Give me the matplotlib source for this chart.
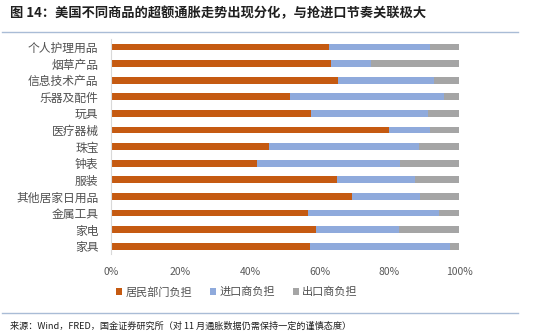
import matplotlib
matplotlib.use("Agg")
import matplotlib.pyplot as plt
from matplotlib.lines import Line2D
from matplotlib.patches import Patch
import numpy as np

plt.rcParams['font.family'] = ['Noto Sans CJK SC', 'DejaVu Sans']

categories = ["个人护理用品", "烟草产品", "信息技术产品", "乐器及配件", "玩具", "医疗器械",
              "珠宝", "钟表", "服装", "其他居家日用品", "金属工具", "家电", "家具"]
household = [62.7, 63.3, 65.2, 51.5, 57.6, 80.0, 45.5, 42.0, 64.8, 69.3, 56.6, 58.9, 57.2]
importer = [28.9, 11.4, 27.6, 44.2, 33.4, 11.7, 42.9, 41.0, 22.7, 19.4, 37.6, 23.9, 40.3]
exporter = [100 - h - i for h, i in zip(household, importer)]
series_names = ["居民部门负担", "进口商负担", "出口商负担"]
colors = ["#C55A11", "#8FAADC", "#A5A5A5"]

W, H = 550, 336
fig = plt.figure(figsize=(W / 100, H / 100), dpi=100)

# plot area in pixel coordinates
x0, x1 = 111, 459
ytop, ybot = 38.7, 254.5
ax = fig.add_axes([x0 / W, 1 - ybot / H, (x1 - x0) / W, (ybot - ytop) / H])

y = np.arange(len(categories))
left = np.zeros(len(categories))
for vals, c, name in zip([household, importer, exporter], colors, series_names):
    ax.barh(y, vals, left=left, height=0.42, color=c, label=name)
    left += np.array(vals)

ax.set_ylim(len(categories) - 0.5, -0.5)
ax.set_xlim(0, 100)
ax.set_yticks(y)
ax.set_yticklabels(categories, fontsize=8.5, color="#505050")
ax.set_xticks(np.arange(0, 101, 20))
ax.set_xticklabels([f"{v}%" for v in range(0, 101, 20)], fontsize=7.5, color="#595959")
ax.tick_params(axis="y", length=0, pad=9)
ax.tick_params(axis="x", length=0, pad=9)
for s in ["top", "right", "bottom"]:
    ax.spines[s].set_visible(False)
ax.spines["left"].set_color("#D9D9D9")
ax.spines["left"].set_linewidth(0.8)

handles = [Patch(facecolor=c, edgecolor="none") for c in colors]
fig.legend(handles, series_names, loc="center", bbox_to_anchor=(237 / W, 1 - 292 / H),
           ncol=3, frameon=False, fontsize=8, handlelength=0.55, handleheight=0.55,
           handletextpad=0.3, columnspacing=1.6, labelcolor="#505050")

# header and footer
fig.text(10 / W, 1 - 13 / H, "图 14：美国不同商品的超额通胀走势出现分化，与抢进口节奏关联极大",
         fontsize=9.5, fontweight="bold", color="#1F1F1F", va="center", ha="left")
fig.add_artist(Line2D([2 / W, 518 / W], [1 - 31.5 / H] * 2, color="#A9BCD6", lw=1.0))
fig.add_artist(Line2D([2 / W, 518 / W], [1 - 313 / H] * 2, color="#A9BCD6", lw=1.0))
fig.text(10 / W, 1 - 326 / H, "来源：Wind，FRED，国金证券研究所（对 11 月通胀数据仍需保持一定的谨慎态度）",
         fontsize=6.6, color="#1F1F1F", va="center", ha="left")

fig.savefig("out.png", dpi=100)
